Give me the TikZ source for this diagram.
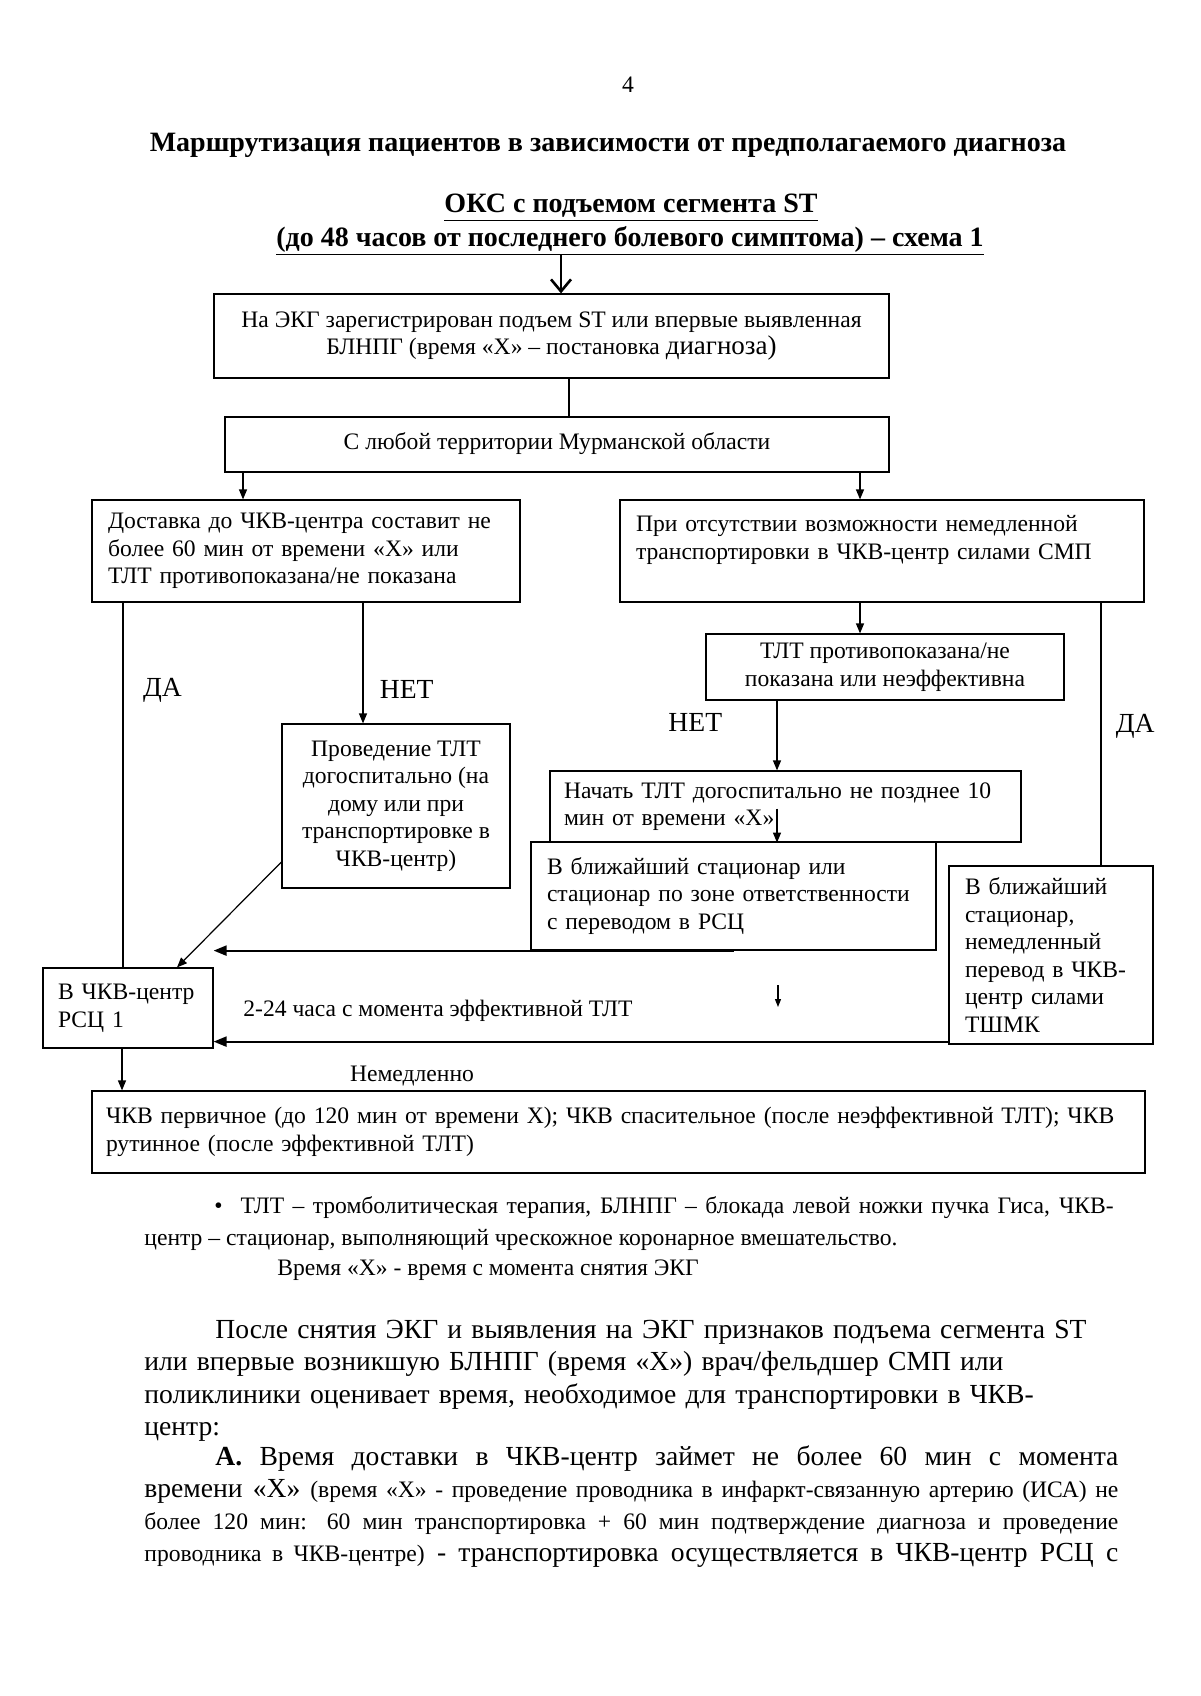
\documentclass[tikz,border=0pt]{standalone}
\usepackage{fontspec}
\setmainfont{Liberation Serif}
\usetikzlibrary{arrows.meta}

\tikzset{
	box/.style={draw, line width=0.6pt, font=\fontsize{11.8}{13.8}\selectfont},
	cbox/.style={box, align=center},
	lbox/.style={box, align=left, inner xsep=8pt},
	arr/.style={-{Triangle[length=5pt,width=4pt]}, line width=0.6pt},
	tarr/.style={-{Triangle[length=6.5pt,width=5pt]}, line width=1.1pt},
	lbl/.style={font=\fontsize{11.8}{13.8}\selectfont},
	yn/.style={font=\fontsize{13.8}{16}\selectfont},
	head/.style={font=\fontsize{14}{16}\selectfont\bfseries},
	body/.style={font=\fontsize{13.8}{16.1}\selectfont, anchor=north west, inner sep=0pt, text width=487pt},
}

\begin{document}
\begin{tikzpicture}[x=0.5pt, y=-0.5pt]
	\useasboundingbox (0,0) rectangle (1200,1696);
	\node (num) at (628,85) [lbl] {4};
	\node (title) at (608,145) [head] {Маршрутизация пациентов в зависимости от предполагаемого диагноза};
	\node (sub1) at (631,208) [head] {\underline{ОКС с подъемом сегмента ST}};
	\node (sub2) at (630,241) [head] {\underline{(до 48 часов от последнего болевого симптома) – схема 1}};
	\coordinate (start) at (561,255);
		\node (ekg) at (551.5,336) [cbox, minimum width=337.5pt, minimum height=42pt] {На ЭКГ зарегистрирован подъем ST или впервые выявленная\\БЛНПГ (время «Х» – постановка {\fontsize{13.5}{14}\selectfont диагноза)}};
		\node (obl) at (557,444.5) [cbox, minimum width=332pt, minimum height=27.5pt] {\raisebox{3.5pt}{С любой территории Мурманской области}};
			\node (dost) at (306,551) [lbox, text width=198pt, minimum height=51pt] {Доставка до ЧКВ-центра составит не\\более 60 мин от времени «Х» или\\ТЛТ противопоказана/не показана};
			\node (pri) at (882,551) [lbox, text width=246pt, minimum height=51pt] {При отсутствии возможности немедленной\\транспортировки в ЧКВ-центр силами СМП\\\mbox{}};
			\node (prot) at (885,667) [cbox, minimum width=179pt, minimum height=33pt] {ТЛТ противопоказана/не\\показана или неэффективна};
			\node (prov) at (396,806) [cbox, minimum width=114pt, minimum height=82pt] {Проведение ТЛТ\\догоспитально (на\\дому или при\\транспортировке в\\ЧКВ-центр)};
			\node (nach) at (785.5,806.5) [lbox, inner xsep=7pt, text width=221.5pt, minimum height=35.5pt] {Начать ТЛТ догоспитально не позднее 10\\мин от времени «Х»};
			\node (bliz) at (733.5,896) [lbox, text width=186.5pt, minimum height=54pt] {В ближайший стационар или\\стационар по зоне ответственности\\с переводом в РСЦ};
			\node (tsmk) at (1051,955) [lbox, text width=86pt, minimum height=89pt] {В ближайший\\стационар,\\немедленный\\перевод в ЧКВ-\\центр силами\\ТШМК};
		\node (rsc) at (128,1008) [lbox, inner xsep=7.5pt, text width=70pt, minimum height=40pt] {В ЧКВ-центр\\РСЦ 1};
		\node (hrs) at (243,1011) [lbl, anchor=west, inner sep=0pt] {2-24 часа с момента эффективной ТЛТ};
		\node (imm) at (412,1076) [lbl] {Немедленно};
	\node (pci) at (618.5,1132) [lbox, inner xsep=7pt, text width=512.5pt, minimum height=41pt] {ЧКВ первичное (до 120 мин от времени Х); ЧКВ спасительное (после неэффективной ТЛТ); ЧКВ\\рутинное (после эффективной ТЛТ)};
	\coordinate (s1) at (778,985);
	\coordinate (s2) at (778,1007);
	\draw[-{Straight Barb[length=6pt,width=10pt]}, line width=1.3pt] (start) to (start |- ekg.north);
	\draw[line width=0.6pt] ([xshift=8.75pt]ekg.south) to ([xshift=8.75pt]ekg.south |- obl.north);
	\draw[arr] ([xshift=-31.5pt]dost.north |- obl.south) to ([xshift=-31.5pt]dost.north);
	\draw[arr] ([xshift=-11pt]pri.north |- obl.south) to ([xshift=-11pt]pri.north);
	\draw[line width=0.8pt] ([xshift=-2.5pt]rsc.north |- dost.south) to node [yn, pos=0.24, right=6.3pt] {ДА} ([xshift=-2.5pt]rsc.north);
	\draw[arr] ([xshift=-16.5pt]prov.north |- dost.south) to node [yn, pos=0.72, right=4.8pt] {НЕТ} ([xshift=-16.5pt]prov.north);
	\draw[arr] ([xshift=-12.5pt]prot.north |- pri.south) to ([xshift=-12.5pt]prot.north);
	\draw[line width=0.6pt] ([xshift=25pt]tsmk.north |- pri.south) to node [yn, pos=0.47, right=3.8pt] {ДА} ([xshift=25pt]tsmk.north);
	\draw[arr] ([xshift=-4.25pt]nach.north |- prot.south) to node [yn, pos=0.31, left=23.8pt] {НЕТ} ([xshift=-4.25pt]nach.north);
	\draw[arr] ([xshift=-4.25pt, yshift=17pt]nach.south) to ([xshift=-4.25pt]nach.south);
	\draw[arr] ([yshift=-28pt]prov.west) to ([xshift=24.5pt]rsc.north);
	\draw[tarr] (bliz.south) to (bliz.south -| rsc.east);
	\draw[tarr] ([yshift=1.5pt]tsmk.south west) to ([yshift=1.5pt]tsmk.south west -| rsc.east);
	\draw[line width=0.6pt, -{Triangle[length=4pt,width=3pt]}] (s1) to (s2);
	\draw[arr] ([xshift=-3pt]rsc.south) to ([xshift=-3pt]rsc.south |- pci.north);
	\node (leg1) at (214,1213) [lbl, anchor=base west, inner sep=0pt] {\textbullet\hspace{9pt}\makebox[436.5pt][s]{ТЛТ – тромболитическая терапия, БЛНПГ – блокада левой ножки пучка Гиса, ЧКВ-}};
	\node (leg2) at (144,1245) [lbl, anchor=base west, inner sep=0pt] {центр – стационар, выполняющий чрескожное коронарное вмешательство.};
	\node (leg3) at (277,1275) [lbl, anchor=base west, inner sep=0pt] {Время «Х» - время с момента снятия ЭКГ};
	\node (par1) at (144,1320) [body, align=left] {\hspace*{35.5pt}После снятия ЭКГ и выявления на ЭКГ признаков подъема сегмента ST\\или впервые возникшую БЛНПГ (время «Х») врач/фельдшер СМП или\\поликлиники оценивает время, необходимое для транспортировки в ЧКВ-\\центр:};
	\node (par2) at (144,1445) [body, align=justify, font=\fontsize{13.8}{16}\selectfont] {\hspace*{35.5pt}\makebox[451.5pt][s]{\textbf{А.} Время доставки в ЧКВ-центр займет не более 60 мин с момента}\\\makebox[487pt][s]{времени «Х» {\fontsize{11.8}{16}\selectfont (время «Х» - проведение проводника в инфаркт-связанную артерию (ИСА) не}}\\\makebox[487pt][s]{\fontsize{11.8}{16}\selectfont более 120 мин: 60 мин транспортировка + 60 мин подтверждение диагноза и проведение}\\\makebox[487pt][s]{{\fontsize{11.8}{16}\selectfont проводника в ЧКВ-центре)} - транспортировка осуществляется в ЧКВ-центр РСЦ с}};
\end{tikzpicture}
\end{document}
